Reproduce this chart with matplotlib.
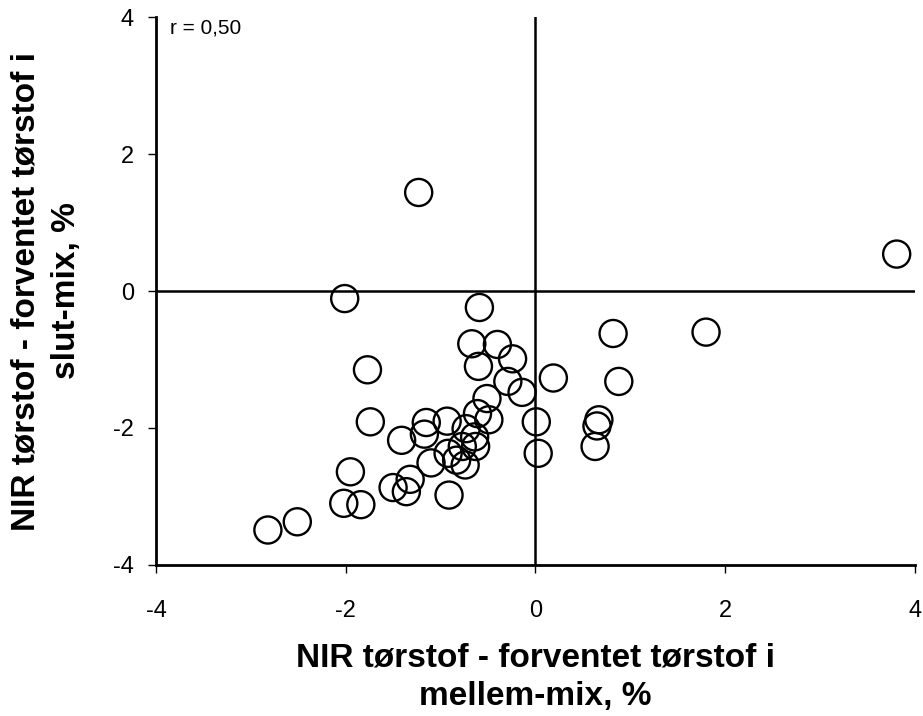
import matplotlib
matplotlib.use('Agg')
import matplotlib.pyplot as plt

# --- DATA ---
x_mellem = [-1.23, 3.81, -2.01, -0.59, -0.67, -0.40, -0.24, -0.60, -1.77, -0.29,
            -0.14, -0.51, -0.61, -0.49, -1.74, -1.15, -0.93, 0.01, -1.17, -0.73,
            -1.41, -0.64, -0.63, -0.77, -0.92, -0.83, -0.74, 0.03, -1.10, -1.95,
            -1.32, -1.50, -1.36, -0.91, -2.02, -1.84, -2.51, -2.82, 0.19, 0.82,
            1.80, 0.88, 0.67, 0.65, 0.63]
y_slut = [1.44, 0.54, -0.11, -0.24, -0.77, -0.78, -0.99, -1.10, -1.15, -1.32,
          -1.48, -1.57, -1.79, -1.88, -1.91, -1.92, -1.90, -1.91, -2.09, -2.01,
          -2.18, -2.13, -2.27, -2.27, -2.37, -2.47, -2.54, -2.37, -2.51, -2.64,
          -2.75, -2.87, -2.93, -2.98, -3.10, -3.12, -3.37, -3.49, -1.27, -0.62,
          -0.60, -1.32, -1.88, -1.97, -2.27]
ticks = [-4, -2, 0, 2, 4]
r_text = "r = 0,50"
x_title = "NIR tørstof - forventet tørstof i\nmellem-mix, %"
y_title = "NIR tørstof - forventet tørstof i\nslut-mix, %"

plt.rcParams['font.family'] = ['Liberation Sans', 'DejaVu Sans']
plt.rcParams['axes.unicode_minus'] = False

fig = plt.figure(figsize=(9.23, 7.16), dpi=100)
ax = fig.add_axes([0.169, 0.211, 0.822, 0.765])

ax.axhline(0, color='black', lw=1.8, zorder=1)
ax.axvline(0, color='black', lw=1.8, zorder=1)
ax.scatter(x_mellem, y_slut, s=380, facecolors='none', edgecolors='black',
           linewidths=1.7, zorder=3, clip_on=False)

ax.set_xlim(-4, 4)
ax.set_ylim(-4, 4)
ax.set_xticks(ticks)
ax.set_yticks(ticks)
ax.tick_params(direction='out', length=6, width=1, labelsize=17, pad=10)
ax.tick_params(axis='x', pad=19)

for side in ['top', 'right']:
    ax.spines[side].set_visible(False)
for side in ['left', 'bottom']:
    ax.spines[side].set_linewidth(2)

ax.text(0.018, 0.997, r_text, transform=ax.transAxes, fontsize=15, va='top', ha='left')

ax.set_xlabel(x_title, fontsize=24, fontweight='bold', labelpad=15, linespacing=1.3)
ax.set_ylabel(y_title, fontsize=24, fontweight='bold', labelpad=22, linespacing=1.4)

fig.savefig('out.png', dpi=100)
plt.close('all')
